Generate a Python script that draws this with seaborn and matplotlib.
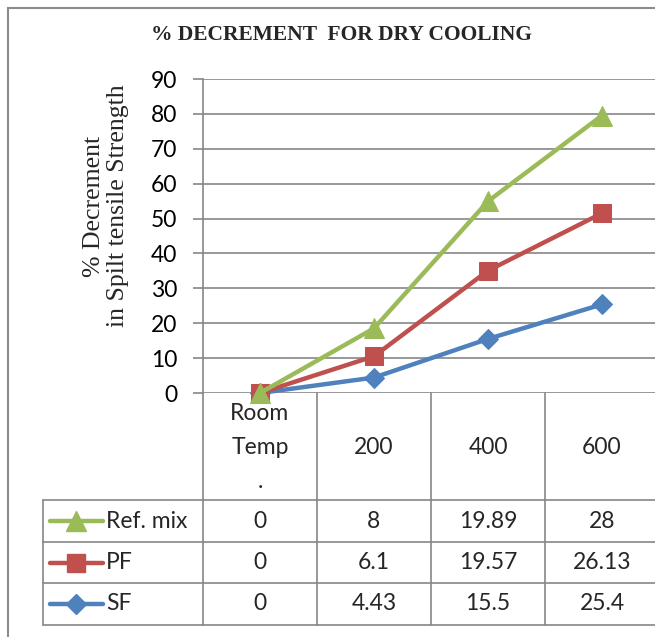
import matplotlib
matplotlib.use("Agg")
import matplotlib.pyplot as plt
from matplotlib.lines import Line2D
from matplotlib.patches import Rectangle
import seaborn as sns
import pandas as pd
import numpy as np

# ---- data (from the data table) ----
categories = ["Room\nTemp\n.", "200", "400", "600"]
series_names = ["Ref. mix", "PF", "SF"]           # table row order
ref_mix = [0, 8, 19.89, 28]
pf = [0, 6.1, 19.57, 26.13]
sf = [0, 4.43, 15.5, 25.4]
value_labels = {
    "Ref. mix": ["0", "8", "19.89", "28"],
    "PF": ["0", "6.1", "19.57", "26.13"],
    "SF": ["0", "4.43", "15.5", "25.4"],
}
y_ticks = [0, 10, 20, 30, 40, 50, 60, 70, 80, 90]

colors = {"Ref. mix": "#9BBB59", "PF": "#C0504D", "SF": "#4F81BD"}
markers = {"Ref. mix": "^", "PF": "s", "SF": "D"}
msizes = {"Ref. mix": 14, "PF": 13, "SF": 10}

# stacked line chart (Excel "stacked line with markers")
stack_order = ["SF", "PF", "Ref. mix"]
raw = {"SF": sf, "PF": pf, "Ref. mix": ref_mix}
cum = np.zeros(len(categories))
rows = []
for name in stack_order:
    cum = cum + np.array(raw[name])
    for i, v in enumerate(cum):
        rows.append({"pos": i, "value": v, "series": name})
df = pd.DataFrame(rows)

sns.set_style("white")
plt.rcParams["font.family"] = ["Lato", "DejaVu Sans"]

W, H = 655, 637
fig = plt.figure(figsize=(W / 100, H / 100), dpi=100)

def fx(px):
    return px / W

def fy(py):
    return 1 - py / H

ax_left, ax_right, ax_top, ax_bot = 203, 659, 79, 393
ax = fig.add_axes([fx(ax_left), fy(ax_bot), fx(ax_right - ax_left), (ax_bot - ax_top) / H])

grid_c = "#868686"
FS = 16.5
for name in stack_order:
    d = df[df.series == name]
    sns.lineplot(data=d, x="pos", y="value", ax=ax, color=colors[name],
                 marker=markers[name], markersize=msizes[name],
                 markeredgecolor=colors[name], linewidth=3.2, clip_on=False,
                 legend=False, zorder=5)

ax.set_xlim(-0.5, 3.5)
ax.set_ylim(0, 90)
ax.set_yticks(y_ticks)
ax.set_yticklabels([str(t) for t in y_ticks], fontsize=FS, color="#000000")
ax.set_xticks([])
ax.set_xlabel("")
ax.set_ylabel("")
ax.grid(axis="y", color=grid_c, linewidth=1.2)
ax.set_axisbelow(True)
for s in ["top", "right", "bottom"]:
    ax.spines[s].set_visible(False)
ax.spines["left"].set_color(grid_c)
ax.spines["left"].set_linewidth(1.2)
ax.tick_params(axis="y", length=7.5, width=1.2, color=grid_c, pad=11, left=True)

def xpx(i):
    return ax_left + (i + 0.5) * (ax_right - ax_left) / 4

# category headers (first row of the data table)
for i, c in enumerate(categories):
    lines = c.split("\n")
    if len(lines) == 1:
        fig.text(fx(xpx(i)), fy(447), c, ha="center", va="center", fontsize=FS)
    else:
        for j, t in enumerate(lines):
            fig.text(fx(xpx(i)), fy(413 + 34 * j), t, ha="center", va="center", fontsize=FS)

# table grid lines
tl = dict(color=grid_c, linewidth=1.2, transform=fig.transFigure)
row_y = [500, 542, 583, 625]
for y in row_y:
    fig.add_artist(Line2D([fx(43), fx(ax_right)], [fy(y), fy(y)], **tl))
for i in range(5):
    x = ax_left + i * (ax_right - ax_left) / 4
    fig.add_artist(Line2D([fx(x), fx(x)], [fy(ax_bot), fy(625)], **tl))
fig.add_artist(Line2D([fx(43), fx(43)], [fy(500), fy(625)], **tl))

# table rows with legend keys
for r, name in enumerate(series_names):
    yc = (row_y[r] + row_y[r + 1]) / 2
    fig.add_artist(Line2D([fx(50), fx(103)], [fy(yc), fy(yc)], color=colors[name],
                          linewidth=3.2, transform=fig.transFigure))
    fig.add_artist(Line2D([fx(76)], [fy(yc)], color=colors[name], marker=markers[name],
                          markersize=msizes[name], markeredgecolor=colors[name],
                          linestyle="none", transform=fig.transFigure))
    fig.text(fx(106), fy(yc), name, ha="left", va="center", fontsize=FS)
    for i, v in enumerate(value_labels[name]):
        fig.text(fx(xpx(i)), fy(yc), v, ha="center", va="center", fontsize=FS)

# title and y label
fig.text(fx(341), fy(35), "% DECREMENT  FOR DRY COOLING", ha="center", va="center",
         fontsize=15.5, fontweight="bold", family="Liberation Serif")
fig.text(fx(106), fy(206), "% Decrement\nin Spilt tensile Strength", ha="center",
         va="center", rotation=90, fontsize=18.5, family="Liberation Serif",
         linespacing=1.15)

# outer chart border
fig.add_artist(Rectangle((fx(8), fy(700)), fx(700), (700 - 8) / H, fill=False,
                         edgecolor="#8C8C8C", linewidth=1.5, transform=fig.transFigure))

fig.savefig("out.png", dpi=100)
